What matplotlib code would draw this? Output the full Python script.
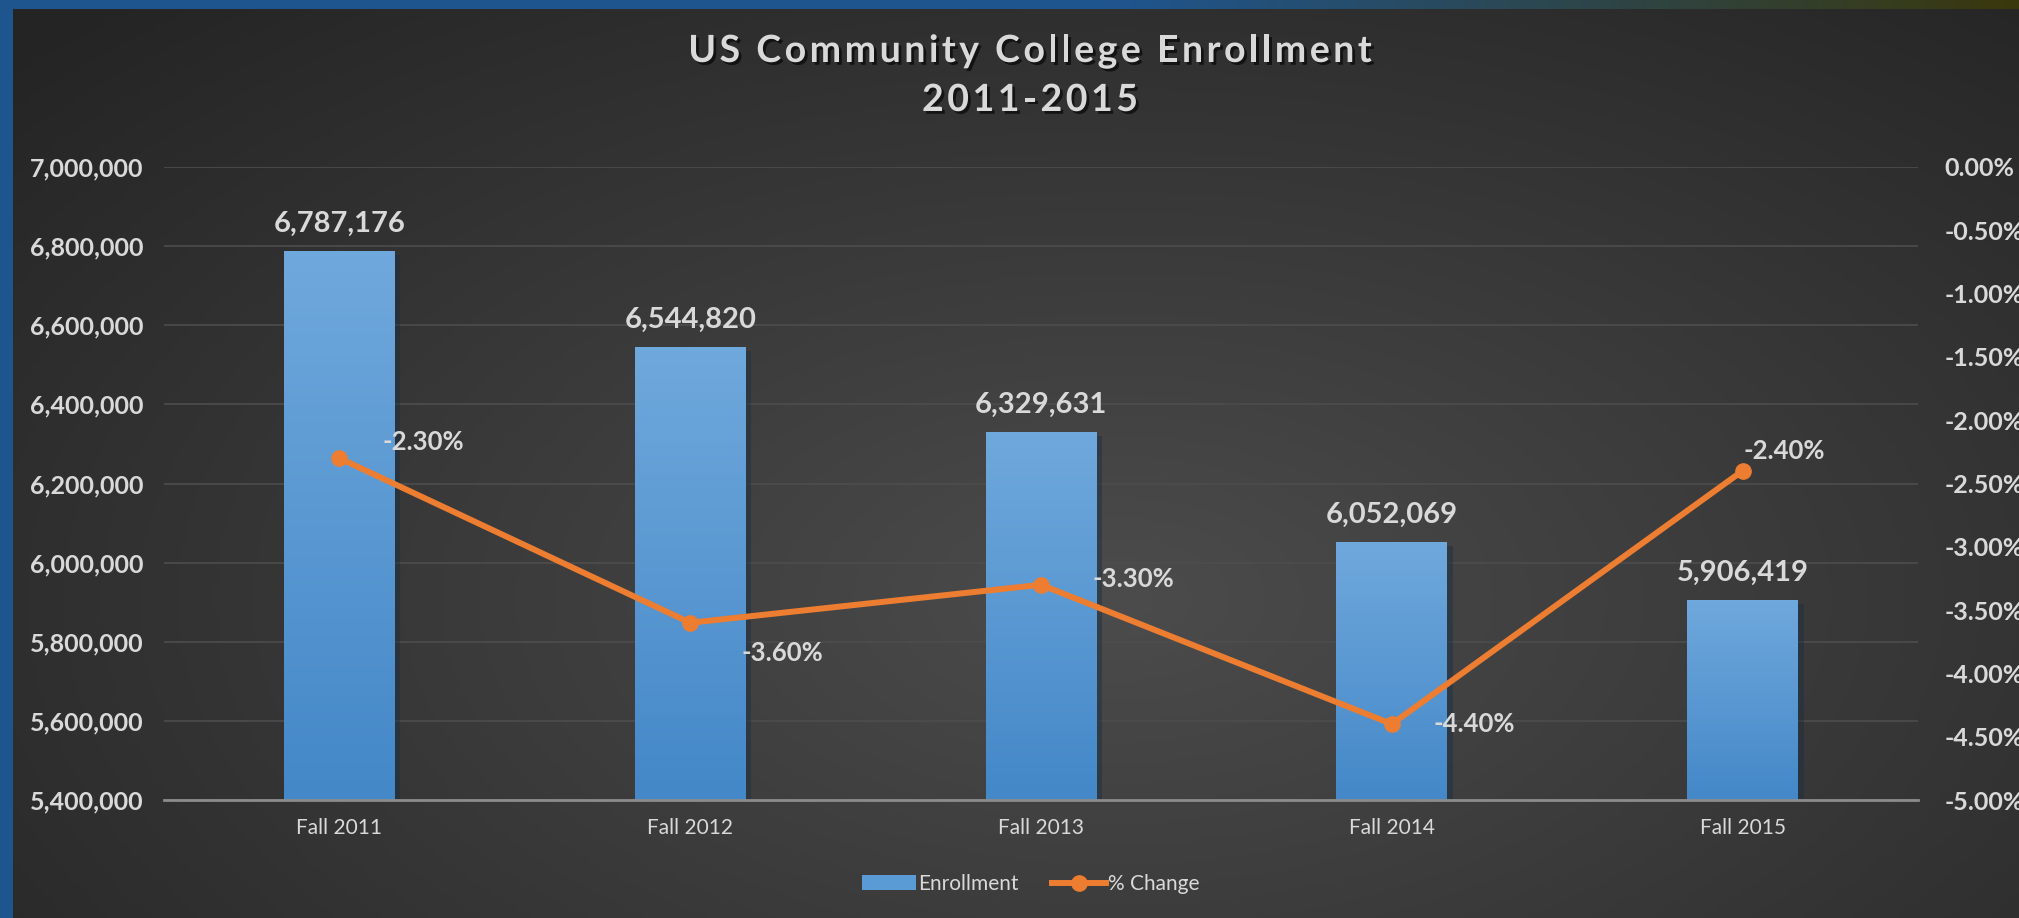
import numpy as np
import matplotlib
matplotlib.use('Agg')
from matplotlib import pyplot as plt
from matplotlib import patheffects as pe
from matplotlib.ticker import FuncFormatter, MultipleLocator
from matplotlib.lines import Line2D
from matplotlib.patches import Patch

terms = ['Fall 2011', 'Fall 2012', 'Fall 2013', 'Fall 2014', 'Fall 2015']
enrollment = [6787176, 6544820, 6329631, 6052069, 5906419]
pct_change = [-2.30, -3.60, -3.30, -4.40, -2.40]
title_lines = ['US Community College Enrollment', '2011-2015']

# label offsets in points (dx, dy) for the % labels
pct_offsets = [(31, 12), (37, -22), (37, 4), (30, 0), (1, 14)]

TXT = '#d9d9d9'
BLUE = '#5b9bd5'
ORANGE = '#ed7d31'
FONT = 'Lato'


def spaced_text(fig, xc, yc, s, gap, **kw):
    # draw text with extra letter spacing (gap in pixels), centred at xc,yc (pixels)
    r = fig.canvas.get_renderer()
    W, H = fig.bbox.width, fig.bbox.height

    def width(txt):
        t = fig.text(0, 0, txt + 'x', **kw)
        w = t.get_window_extent(r).width
        t.remove()
        return w

    wx = width('')
    prefix = [width(s[:i]) - wx for i in range(len(s) + 1)]
    total = prefix[-1] + gap * (len(s) - 1)
    x0 = xc - total / 2
    for i, ch in enumerate(s):
        if ch == ' ':
            continue
        fig.text((x0 + prefix[i] + gap * i) / W, 1 - yc / H, ch, ha='left',
                 va='center', **kw)


def main():
    plt.rcParams['font.family'] = [FONT, 'DejaVu Sans']
    W, H = 2019, 918
    fig = plt.figure(figsize=(W / 100, H / 100), dpi=100)

    # outer blue/olive frame
    frame = fig.add_axes([0, 0, 1, 1])
    frame.axis('off')
    xs = np.linspace(0, 1, 400)
    c0 = np.array([0x1f, 0x55, 0x8f]) / 255
    c1 = np.array([0x3a, 0x38, 0x0c]) / 255
    t = np.clip((xs - 0.55) / 0.45, 0, 1)[None, :, None]
    grad = c0 * (1 - t) + c1 * t
    frame.imshow(np.repeat(grad, 2, axis=0), aspect='auto', extent=[0, 1, 0, 1])
    frame.set_xlim(0, 1)
    frame.set_ylim(0, 1)

    # dark panel with radial gradient
    panel = fig.add_axes([13 / W, 0, 1 - 13 / W, 1 - 9 / H])
    panel.axis('off')
    gx, gy = np.meshgrid(np.linspace(0, 1, 500), np.linspace(0, 1, 250))
    d = np.sqrt(((gx - 0.55) / 0.75) ** 2 + ((gy - 0.35) / 0.9) ** 2)
    d = np.clip(d, 0, 1)
    inner = np.array([0x4c, 0x4c, 0x4c]) / 255
    outer = np.array([0x24, 0x24, 0x24]) / 255
    img = inner * (1 - d[..., None]) + outer * d[..., None]
    panel.imshow(img, aspect='auto', extent=[0, 1, 0, 1], origin='lower')
    panel.set_xlim(0, 1)
    panel.set_ylim(0, 1)

    ax = fig.add_axes([164 / W, 1 - 800 / H, (1918 - 164) / W, (800 - 167) / H])
    ax.patch.set_alpha(0)
    x = np.arange(len(terms))
    bars = ax.bar(x, enrollment, width=0.316, color=BLUE, zorder=2,
                  path_effects=[pe.SimplePatchShadow(offset=(4, -3), alpha=0.45),
                                pe.Normal()])
    # vertical gradient on bars
    bgrad = np.linspace(0, 1, 100)[:, None, None]
    top_c = np.array([0x6f, 0xa8, 0xdc]) / 255
    bot_c = np.array([0x44, 0x88, 0xc8]) / 255
    gimg = top_c * (1 - bgrad) + bot_c * bgrad
    for b in bars:
        bx, by = b.get_x(), b.get_y()
        im = ax.imshow(gimg, aspect='auto', zorder=3,
                       extent=[bx, bx + b.get_width(), 5400000, by + b.get_height()])
        im.set_clip_path(b)
    for xi, v in zip(x, enrollment):
        ax.annotate(f'{v:,}', (xi, v), xytext=(0, 10), textcoords='offset points',
                    ha='center', va='bottom', color=TXT, fontsize=21,
                    fontweight='bold', zorder=5)

    ax.set_xlim(-0.5, len(terms) - 0.5)
    ax.set_ylim(5400000, 7000000)
    ax.yaxis.set_major_locator(MultipleLocator(200000))
    ax.yaxis.set_major_formatter(FuncFormatter(lambda v, p: f'{int(v):,}'))
    ax.set_xticks(x)
    ax.set_xticklabels(terms)
    ax.grid(axis='y', color='#4d4d4d', linewidth=1.2, zorder=0)
    ax.set_axisbelow(True)
    for s in ['top', 'right', 'left']:
        ax.spines[s].set_visible(False)
    ax.spines['bottom'].set_color('#8c8c8c')
    ax.spines['bottom'].set_linewidth(2)
    ax.spines['bottom'].set_zorder(4)
    ax.tick_params(axis='y', length=0, pad=15, labelsize=18, labelcolor=TXT)
    ax.tick_params(axis='x', length=0, pad=13, labelsize=15, labelcolor=TXT)
    for lb in ax.get_yticklabels():
        lb.set_fontweight('bold')

    ax2 = ax.twinx()
    ax2.plot(x, pct_change, color=ORANGE, linewidth=4.3, marker='o',
             markersize=11, zorder=6)
    ax2.set_ylim(-5, 0)
    ax2.yaxis.set_major_locator(MultipleLocator(0.5))
    ax2.yaxis.set_major_formatter(FuncFormatter(lambda v, p: f'{v:.2f}%'))
    ax2.tick_params(axis='y', length=0, pad=19, labelsize=18, labelcolor=TXT)
    for lb in ax2.get_yticklabels():
        lb.set_fontweight('bold')
    for s in ax2.spines.values():
        s.set_visible(False)
    for xi, v, off in zip(x, pct_change, pct_offsets):
        ax2.annotate(f'{v:.2f}%', (xi, v), xytext=off, textcoords='offset points',
                     ha='left', va='center', color=TXT, fontsize=18.5,
                     fontweight='bold', zorder=7)

    shadow = [pe.withSimplePatchShadow(offset=(2, -2), shadow_rgbFace='black', alpha=0.6)]
    for line, yc in zip(title_lines, [51, 100]):
        spaced_text(fig, 1030, yc, line, 3.5, color=TXT, fontsize=27,
                    fontweight='bold', path_effects=shadow)

    handles = [Patch(facecolor=BLUE, label='Enrollment'),
               Line2D([], [], color=ORANGE, linewidth=4.3, marker='o',
                      markersize=11, label='% Change')]
    fig.legend(handles=handles, loc='center', bbox_to_anchor=(1031 / W, 1 - 884 / H),
               ncol=2, frameon=False, fontsize=15, labelcolor=TXT,
               handlelength=2.6, handletextpad=0.1, columnspacing=1.6)

    fig.savefig('out.png', dpi=100)


if __name__ == '__main__':
    main()
